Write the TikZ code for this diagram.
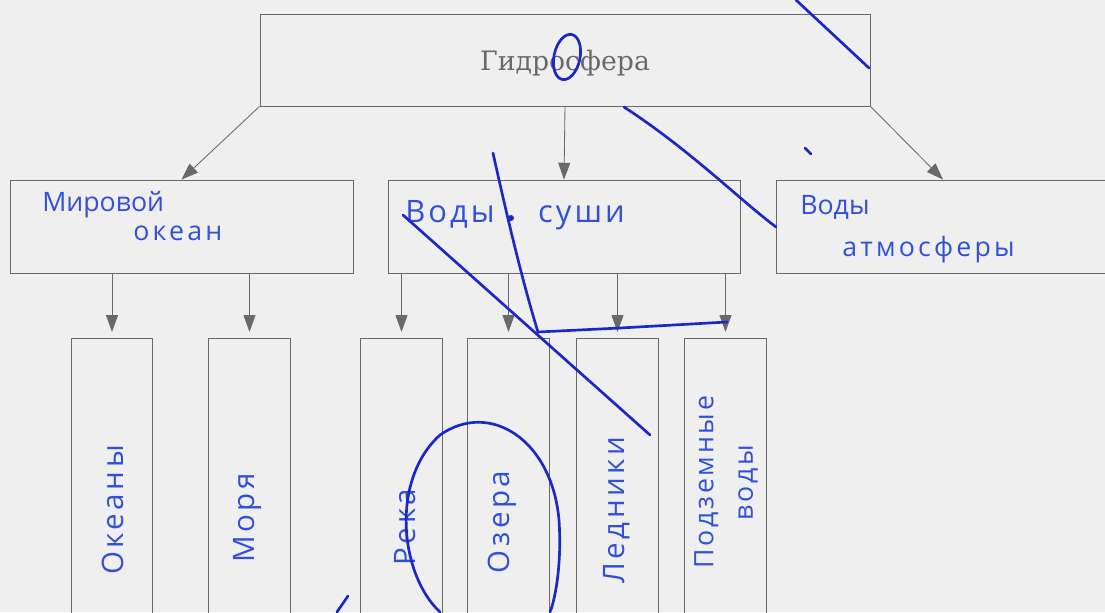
\documentclass[tikz,border=0pt]{standalone}
\usepackage{fontspec}
\newfontfamily\printfont{DejaVu Serif}
\newfontfamily\handfont{Open Sans}
\usetikzlibrary{arrows.meta}
\definecolor{sheet}{RGB}{239,239,239}
\definecolor{frame}{RGB}{105,105,105}
\definecolor{ink}{RGB}{50,80,215}
\definecolor{pen}{RGB}{25,40,200}
\tikzset{
  box/.style={
    draw=frame,
    line width=0.6pt,
    inner sep=0pt
  },
  topbox/.style={box, minimum width=15.25cm, minimum height=2.3cm},
  midbox/.style={box, minimum height=2.325cm},
  tallbox/.style={box, minimum width=2.03cm, minimum height=7.55cm},
  link/.style={
    draw=frame,
    line width=0.6pt,
    -{Triangle[length=0.42cm,width=0.3cm]}
  },
  hand/.style={
    text=ink,
    inner sep=0pt,
    font=\handfont\fontsize{19}{24}\selectfont
  },
  handwide/.style={
    hand,
    font=\handfont\fontsize{21}{28}\selectfont\addfontfeature{LetterSpace=12}
  },
  scribble/.style={
    draw=pen,
    line width=1.9pt,
    line cap=round,
    line join=round
  }
}
\begin{document}
\begin{tikzpicture}[x=0.025cm, y=-0.025cm]
  \useasboundingbox (0,0) rectangle (1105,612);
  \fill[sheet] (0,0) rectangle (1105,612);
  \clip (0,0) rectangle (1105,612);
  % top level
  \node[topbox] (hydro) at (565,60) {};
  \node[text=frame, inner sep=0pt, font=\printfont\fontsize{19}{20}\selectfont] (hydroT) at (565,63) {Гидросфера};
  % second level
  \node[midbox, minimum width=8.575cm] (ocean) at (181.5,226.5) {};
  \node[midbox, minimum width=8.8cm] (land) at (564,226.5) {};
  \node[midbox, minimum width=8.35cm] (air) at (943,226.5) {};
  \node[hand, anchor=west] (oceanA) at (42,205) {Мировой};
  \node[hand, anchor=west, font=\handfont\fontsize{19}{24}\selectfont\addfontfeature{LetterSpace=12}] (oceanB) at (133,233) {океан};
  \node[handwide, anchor=west, font=\handfont\fontsize{22}{24}\selectfont\addfontfeature{LetterSpace=10}] (landA) at (405,215) {Воды\hspace{1.4em}суши};
  \node[hand, anchor=west] (airA) at (800,207) {Воды};
  \node[hand, anchor=west, font=\handfont\fontsize{19}{24}\selectfont\addfontfeature{LetterSpace=12}] (airB) at (842,250) {атмосферы};
  % third level
  \node[tallbox] (oceans) at (112,489) {};
  \node[tallbox] (seas) at (249.5,489) {};
  \node[tallbox] (rivers) at (401.5,489) {};
  \node[tallbox] (lakes) at (508.5,489) {};
  \node[tallbox] (glaciers) at (617.5,489) {};
  \node[tallbox] (ground) at (725.5,489) {};
  \node[handwide, rotate=90] (oceansT) at (113,510) {Океаны};
  \node[handwide, rotate=90] (seasT) at (248,518) {Моря};
  \node[handwide, rotate=90] (riversT) at (405,527) {Река};
  \node[handwide, rotate=90] (lakesT) at (502,522) {Озера};
  \node[handwide, rotate=90] (glaciersT) at (617,510) {Ледники};
  \node[handwide, rotate=90, align=left, font=\handfont\fontsize{19}{28}\selectfont\addfontfeature{LetterSpace=10}] (groundT) at (726,482) {Подземные\\\hspace{1.8em}воды};
  % arrows
  \draw[link] (hydro.south west) -- (ocean.north);
  \draw[link] (hydro.south) -- (land.north);
  \draw[link] (hydro.south east) -- (air.north);
  \foreach \src/\dst in {ocean/oceans, ocean/seas, land/rivers, land/lakes, land/glaciers, land/ground}
    \draw[link, shorten >=4pt] (\dst.north |- \src.south) -- (\dst.north);
  % pen marks
  \draw[scribble] (796,0) -- (869,68);
  \draw[scribble, rotate around={-12:(567,57)}] (567,57) ellipse (13 and 23);
  \draw[scribble] (624,107) .. controls (690,150) and (740,200) .. (776,227);
  \draw[scribble] (805,148) -- (811,154);
  \draw[scribble] (493,153) .. controls (510,230) and (525,290) .. (538,332);
  \fill[pen] (511,218) circle (3);
  \draw[scribble] (403,215) -- (650,435);
  \draw[scribble] (538,332) -- (620,328) -- (727,322);
  \draw[scribble] (440,612) .. controls (400,575) and (390,480) .. (440,435)
    .. controls (490,400) and (552,440) .. (559,520)
    .. controls (562,565) and (555,600) .. (550,612);
  \draw[scribble] (348,596) -- (337,612);
\end{tikzpicture}
\end{document}
